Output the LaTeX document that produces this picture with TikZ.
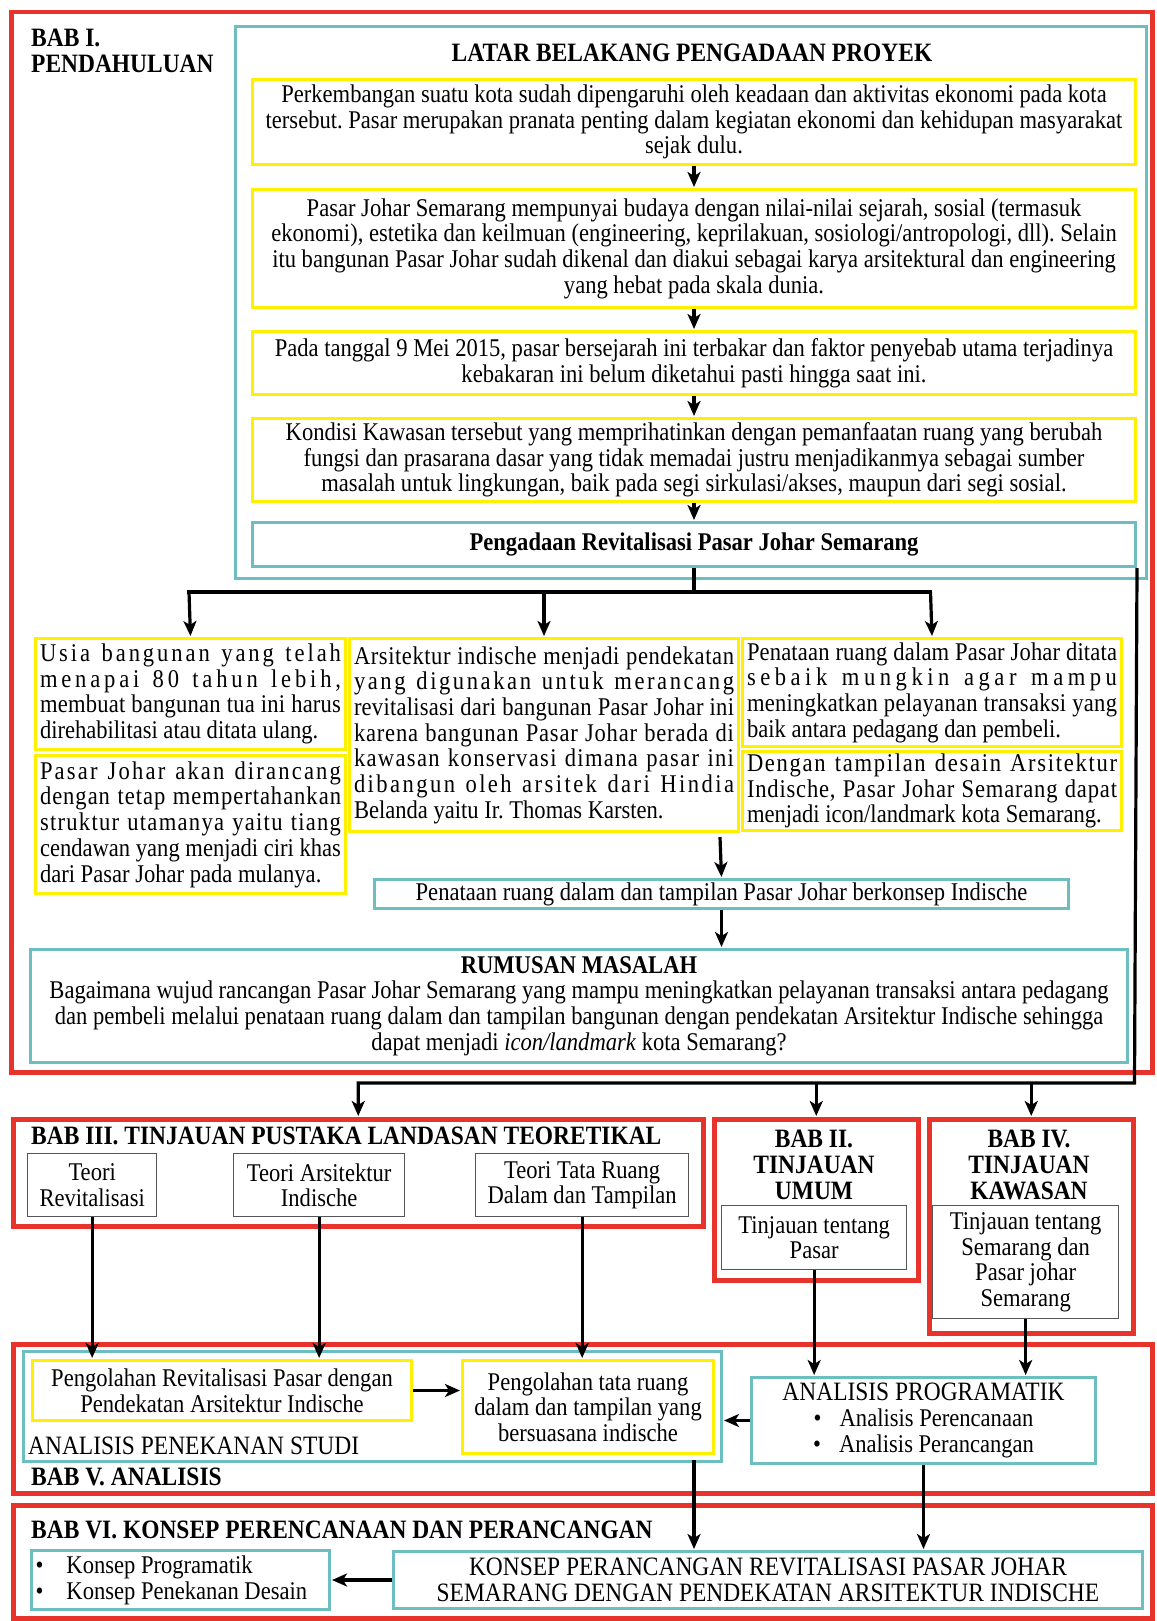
\documentclass[tikz,border=0pt]{standalone}
\usepackage{fontspec}
\setmainfont{Liberation Serif}[FakeStretch=0.885]
\usetikzlibrary{arrows.meta}
\definecolor{bred}{RGB}{232,50,44}
\definecolor{bcyan}{RGB}{108,190,192}
\definecolor{byel}{RGB}{255,240,0}
\definecolor{bgray}{RGB}{85,85,85}
\ExplSyntaxOn
\cs_new_protected:Npn \spreadtext #1
 { \str_map_inline:nn {#1} { ##1 \hskip 0pt plus 1fil \relax } \unskip }
\ExplSyntaxOff
\newcommand\jl[2]{{\spaceskip=0pt\xspaceskip=0pt\makebox[#1][s]{\spreadtext{#2}}}}
\begin{document}
\frenchspacing
\begin{tikzpicture}[x=1pt,y=-1pt,
  redbox/.style={draw=bred, line width=4.5pt, inner sep=0pt},
  cyanbox/.style={draw=bcyan, line width=3pt, inner sep=0pt},
  yelbox/.style={draw=byel, line width=3pt, inner sep=0pt},
  graybox/.style={draw=bgray, line width=1.3pt, inner sep=0pt},
  nw/.style={anchor=north west},
  arr/.style={line width=3.2pt, line join=miter, -{Stealth[length=15pt,width=13pt,inset=4pt]}, shorten >=1pt},
  conn/.style={line width=3.2pt},
  bodytxt/.style={font=\fontsize{25.5}{25.7}\selectfont},
  hd/.style={font=\fontsize{26.5}{26}\selectfont\bfseries, inner sep=0pt},
  capsf/.style={font=\fontsize{26.5}{25.7}\selectfont},
  just/.style={align=flush left, inner xsep=4.5pt},
]
\useasboundingbox (0,0) rectangle (1156,1621);
\fill[white] (0,0) rectangle (1156,1621);

% ---------------- BAB I ----------------
\node[redbox, nw, minimum width=1141pt, minimum height=1060pt] (bab1) at (9,10) {};
\node[hd, nw, align=left] (bab1t) at (31,29) {BAB I.\\PENDAHULUAN};
\node[cyanbox, nw, minimum width=911pt, minimum height=552pt] (latar) at (234,25) {};
\node[hd] (latart) at (692,53) {LATAR BELAKANG PENGADAAN PROYEK};

\node[yelbox, bodytxt, nw, minimum width=883pt, minimum height=85pt, align=center] (b1) at (251,78)
 {Perkembangan suatu kota sudah dipengaruhi oleh keadaan dan aktivitas ekonomi pada kota\\
  tersebut. Pasar merupakan pranata penting dalam kegiatan ekonomi dan kehidupan masyarakat\\
  sejak dulu.};
\node[yelbox, bodytxt, nw, minimum width=883pt, minimum height=118pt, align=center] (b2) at (251,188)
 {Pasar Johar Semarang mempunyai budaya dengan nilai-nilai sejarah, sosial (termasuk\\
  ekonomi), estetika dan keilmuan (engineering, keprilakuan, sosiologi/antropologi, dll). Selain\\
  itu bangunan Pasar Johar sudah dikenal dan diakui sebagai karya arsitektural dan engineering\\
  yang hebat pada skala dunia.};
\node[yelbox, bodytxt, nw, minimum width=883pt, minimum height=63pt, align=center] (b3) at (251,330)
 {Pada tanggal 9 Mei 2015, pasar bersejarah ini terbakar dan faktor penyebab utama terjadinya\\
  kebakaran ini belum diketahui pasti hingga saat ini.};
\node[yelbox, bodytxt, nw, minimum width=883pt, minimum height=83pt, align=center] (b4) at (251,417)
 {Kondisi Kawasan tersebut yang memprihatinkan dengan pemanfaatan ruang yang berubah\\
  fungsi dan prasarana dasar yang tidak memadai justru menjadikanmya sebagai sumber\\
  masalah untuk lingkungan, baik pada segi sirkulasi/akses, maupun dari segi sosial.};
\node[cyanbox, bodytxt, nw, minimum width=883pt, minimum height=44pt] (peng) at (251,521)
 {\bfseries Pengadaan Revitalisasi Pasar Johar Semarang};

% three columns
\node[yelbox, bodytxt, just, nw, minimum width=310pt, minimum height=111pt, text width=301pt] (bA) at (34,637)
 {\jl{301pt}{Usia bangunan yang telah}\\
  \jl{301pt}{menapai 80 tahun lebih,}\\
  \jl{301pt}{membuat bangunan tua ini harus}\\
  direhabilitasi atau ditata ulang.};
\node[yelbox, bodytxt, just, nw, minimum width=310pt, minimum height=138pt, text width=301pt] (bB) at (34,754)
 {\jl{301pt}{Pasar Johar akan dirancang}\\
  \jl{301pt}{dengan tetap mempertahankan}\\
  \jl{301pt}{struktur utamanya yaitu tiang}\\
  \jl{301pt}{cendawan yang menjadi ciri khas}\\
  dari Pasar Johar pada mulanya.};
\node[yelbox, bodytxt, just, nw, minimum width=389pt, minimum height=193pt, text width=380pt] (bC) at (348,637)
 {\jl{380pt}{Arsitektur indische menjadi pendekatan}\\
  \jl{380pt}{yang digunakan untuk merancang}\\
  \jl{380pt}{revitalisasi dari bangunan Pasar Johar ini}\\
  \jl{380pt}{karena bangunan Pasar Johar berada di}\\
  \jl{380pt}{kawasan konservasi dimana pasar ini}\\
  \jl{380pt}{dibangun oleh arsitek dari Hindia}\\
  Belanda yaitu Ir. Thomas Karsten.};
\node[yelbox, bodytxt, just, nw, minimum width=379pt, minimum height=108pt, text width=370pt] (bD) at (741,637)
 {\jl{370pt}{Penataan ruang dalam Pasar Johar ditata}\\
  \jl{370pt}{sebaik mungkin agar mampu}\\
  \jl{370pt}{meningkatkan pelayanan transaksi yang}\\
  baik antara pedagang dan pembeli.};
\node[yelbox, bodytxt, just, nw, minimum width=379pt, minimum height=79pt, text width=370pt] (bE) at (741,750)
 {\jl{370pt}{Dengan tampilan desain Arsitektur}\\
  \jl{370pt}{Indische, Pasar Johar Semarang dapat}\\
  menjadi icon/landmark kota Semarang.};

\node[cyanbox, bodytxt, nw, minimum width=694pt, minimum height=29pt] (pen) at (373,878)
 {Penataan ruang dalam dan tampilan Pasar Johar berkonsep Indische};

\node[cyanbox, bodytxt, nw, minimum width=1097pt, minimum height=113pt, align=center] (rum) at (29,948)
 {\textbf{RUMUSAN MASALAH}\\
  Bagaimana wujud rancangan Pasar Johar Semarang yang mampu meningkatkan pelayanan transaksi antara pedagang\\
  dan pembeli melalui penataan ruang dalam dan tampilan bangunan dengan pendekatan Arsitektur Indische sehingga\\
  dapat menjadi \textit{icon/landmark} kota Semarang?};

% ---------------- BAB III / II / IV ----------------
\node[redbox, nw, minimum width=690pt, minimum height=107pt] (bab3) at (11,1117) {};
\node[hd, anchor=base west] (bab3t) at (31,1144) {BAB III. TINJAUAN PUSTAKA LANDASAN TEORETIKAL};
\node[graybox, bodytxt, nw, minimum width=129pt, minimum height=63pt, align=center] (tr) at (27,1153) {Teori\\Revitalisasi};
\node[graybox, bodytxt, nw, minimum width=171pt, minimum height=63pt, align=center] (ta) at (233,1153) {Teori Arsitektur\\Indische};
\node[graybox, bodytxt, nw, minimum width=213pt, minimum height=63pt, align=center] (tt) at (475,1153) {Teori Tata Ruang\\Dalam dan Tampilan};

\node[redbox, nw, minimum width=204pt, minimum height=161pt] (bab2) at (712,1117) {};
\node[hd, align=center] (bab2t) at (814,1165) {BAB II.\\TINJAUAN\\UMUM};
\node[graybox, bodytxt, nw, minimum width=185pt, minimum height=64pt, align=center] (tp) at (721,1205) {Tinjauan tentang\\Pasar};

\node[redbox, nw, minimum width=204pt, minimum height=214pt] (bab4) at (927,1117) {};
\node[hd, align=center] (bab4t) at (1029,1165) {BAB IV.\\TINJAUAN\\KAWASAN};
\node[graybox, bodytxt, nw, minimum width=186pt, minimum height=113pt, align=center] (tk) at (932,1205)
 {Tinjauan tentang\\Semarang dan\\Pasar johar\\Semarang};

% ---------------- BAB V ----------------
\node[redbox, nw, minimum width=1139pt, minimum height=149pt] (bab5) at (11,1342) {};
\node[cyanbox, nw, minimum width=698pt, minimum height=110pt] (studi) at (22,1350) {};
\node[yelbox, bodytxt, nw, minimum width=379pt, minimum height=60pt, align=center] (rev) at (31,1359)
 {Pengolahan Revitalisasi Pasar dengan\\Pendekatan Arsitektur Indische};
\node[yelbox, bodytxt, nw, minimum width=251pt, minimum height=93pt, align=center] (tata) at (461,1359)
 {Pengolahan tata ruang\\dalam dan tampilan yang\\bersuasana indische};
\node[capsf, anchor=base west, inner sep=0pt] (studit) at (28,1454) {ANALISIS PENEKANAN STUDI};
\node[hd, anchor=base west] (bab5t) at (31,1485) {BAB V. ANALISIS};
\node[cyanbox, bodytxt, nw, minimum width=344pt, minimum height=86pt, align=center] (ap) at (750,1376)
 {{\fontsize{26.5}{25.7}\selectfont ANALISIS PROGRAMATIK}\\
  \makebox[26pt][l]{•}Analisis Perencanaan\\
  \makebox[26pt][l]{•}Analisis Perancangan};

% ---------------- BAB VI ----------------
\node[redbox, nw, minimum width=1139pt, minimum height=113pt] (bab6) at (11,1503) {};
\node[hd, anchor=base west] (bab6t) at (31,1538) {BAB VI. KONSEP PERENCANAAN DAN PERANCANGAN};
\node[cyanbox, bodytxt, nw, minimum width=298pt, minimum height=59pt, text width=290pt, inner xsep=4pt, align=flush left] (kon) at (30,1549)
 {\makebox[31pt][l]{•}Konsep Programatik\\\makebox[31pt][l]{•}Konsep Penekanan Desain};
\node[cyanbox, capsf, nw, minimum width=749pt, minimum height=57pt, align=center] (kpr) at (392,1550)
 {KONSEP PERANCANGAN REVITALISASI PASAR JOHAR\\SEMARANG DENGAN PENDEKATAN ARSITEKTUR INDISCHE};

% ---------------- connectors ----------------
\draw[arr] (b1.south) -- (b2.north);
\draw[arr] (b2.south) -- (b3.north);
\draw[arr] (b3.south) -- (b4.north);
\draw[arr] (b4.south) -- (peng.north);
\coordinate (hL) at (189,592);
\coordinate (hR) at (930.5,592);
\draw[conn] (peng.south) -- (peng.south |- hL);
\draw[conn, line cap=rect] (hL) -- (hR);
\draw[arr] (hL) -- (bA.north);
\draw[arr] (bC.north |- hL) -- (bC.north);
\draw[arr] (hR) -- (bD.north);
\coordinate (cE) at (720,837);
\draw[arr] (cE) -- (pen.north);
\draw[arr] (pen.south) -- (pen.south |- rum.north);
\coordinate (rc) at (1134.5,1083);
\draw[arr] (peng.south east) -- (rc) -- (rc -| bab3.north) -- (bab3.north);
\draw[arr] (rc -| bab2.north) -- (bab2.north);
\draw[arr] (rc -| bab4.north) -- (bab4.north);
\draw[arr] (tr.south) -- (tr.south |- rev.north);
\draw[arr] (ta.south) -- (ta.south |- rev.north);
\draw[arr] (tt.south) -- (tt.south |- tata.north);
\draw[arr] (tp.south) -- (tp.south |- ap.north);
\draw[arr] (tk.south) -- (tk.south |- ap.north);
\draw[arr] (rev.east) -- (rev.east -| tata.west);
\draw[arr] (ap.west) -- (ap.west -| studi.east);
\coordinate (d1) at (694,1460);
\draw[arr] (d1) -- (d1 |- kpr.north);
\draw[arr] (ap.south) -- (ap.south |- kpr.north);
\draw[arr] (kpr.west) -- (kpr.west -| kon.east);
\end{tikzpicture}
\end{document}
